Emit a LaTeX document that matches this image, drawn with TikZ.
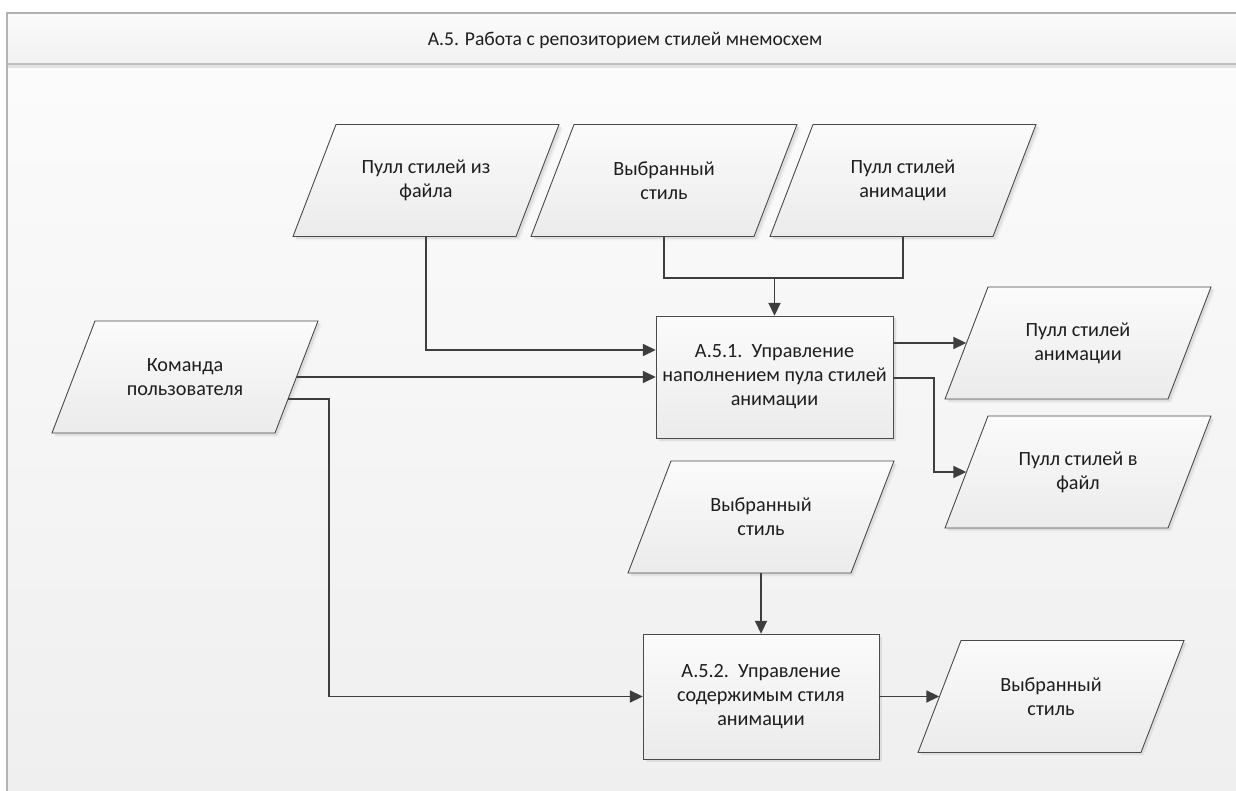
\documentclass[tikz,border=0pt]{standalone}
\usepackage{fontspec}
\setmainfont{Carlito}
\usetikzlibrary{arrows.meta}

\definecolor{frameline}{HTML}{B2B2B2}
\definecolor{headtop}{HTML}{FBFBFB}
\definecolor{headbot}{HTML}{F1F1F1}
\definecolor{bodytop}{HTML}{FCFCFC}
\definecolor{bodybot}{HTML}{EFEFEF}
\definecolor{outline}{HTML}{4A4A4A}
\definecolor{wire}{HTML}{3E3E3E}
\definecolor{filltop}{HTML}{FBFBFB}
\definecolor{fillbot}{HTML}{EBEBEB}
\definecolor{ink}{HTML}{1E1E1E}

\tikzset{
  label text/.style={font=\fontsize{20.2pt}{24pt}\selectfont, text=ink, align=center, inner sep=0pt},
  iotext/.style={label text, minimum width=223pt, minimum height=112pt},
  proctext/.style={label text},
  softshade/.style={fill=black!6},
  hardshade/.style={fill=black!13},
  facefill/.style={top color=filltop, bottom color=fillbot, draw=outline, line width=0.9pt},
  conn/.style={draw=wire, line width=1.8pt, -{Triangle[length=13pt,width=12pt]}},
  wireline/.style={draw=wire, line width=1.8pt},
}

% data parallelogram: name, centre x, centre y, text
\newcommand\ioat[4]{%
  \path[softshade] (#2,#3) ++(-133+4,-56-4) -- ++(223,0) -- ++(43,112) -- ++(-223,0) -- cycle;
  \path[hardshade] (#2,#3) ++(-133+2.5,-56-2.5) -- ++(223,0) -- ++(43,112) -- ++(-223,0) -- cycle;
  \shade[facefill] (#2,#3) ++(-133,-56) -- ++(223,0) -- ++(43,112) -- ++(-223,0) -- cycle;
  \node[iotext] (#1) at (#2,#3) {#4};
}

% process box: name, centre x, centre y, width, height, text
\newcommand\procat[6]{%
  \path[softshade] (#2,#3) ++(-#4/2+4,-#5/2-4) rectangle ++(#4,#5);
  \path[hardshade] (#2,#3) ++(-#4/2+2.5,-#5/2-2.5) rectangle ++(#4,#5);
  \shade[facefill] (#2,#3) ++(-#4/2,-#5/2) rectangle ++(#4,#5);
  \node[proctext, minimum width=#4pt, minimum height=#5pt] (#1) at (#2,#3) {#6};
}

\begin{document}
\begin{tikzpicture}[x=1pt,y=1pt]
\useasboundingbox (0,0) rectangle (1236,-791);
\clip (0,0) rectangle (1236,-791);
\fill[white] (0,0) rectangle (1236,-791);

% frame body and header band
\shade[top color=bodytop, bottom color=bodybot] (7,-13) rectangle (1245,-800);
\shade[top color=headtop, bottom color=headbot] (7,-13) rectangle (1245,-63);
\fill[black!11] (8,-64.5) rectangle (1245,-68);
\draw[black!25, line width=2pt] (8,-64) -- (1245,-64);
\draw[frameline, line width=1.6pt] (1245,-13) -- (7,-13) -- (7,-800);

\node[font=\fontsize{19.6pt}{23pt}\selectfont, text=ink, inner sep=0pt] (title) at (625,-40) {А.5. Работа с репозиторием стилей мнемосхем};

% inputs along the top
\ioat{p1}{426}{-180.5}{Пулл стилей из\\файла}
\ioat{p2}{664}{-180.5}{Выбранный\\стиль}
\ioat{p3}{903}{-180.5}{Пулл стилей\\анимации}

% user command
\ioat{p4}{185}{-377}{Команда\\пользователя}

% outputs of A.5.1
\ioat{p5}{1078}{-343}{Пулл стилей\\анимации}
\ioat{p6}{1078}{-472}{Пулл стилей в\\файл}

% input and output of A.5.2
\ioat{p7}{761}{-517}{Выбранный\\стиль}
\ioat{p8}{1051}{-696.5}{Выбранный\\стиль}

% processes
\procat{b1}{774.5}{-377}{237}{122}{А.5.1.~~Управление\\наполнением пула стилей\\анимации}
\procat{b2}{761}{-696.5}{236}{125}{А.5.2.~~Управление\\содержимым стиля\\анимации}

% connectors
\coordinate (join) at ([yshift=38pt]b1.north);
\draw[conn] (p1.south) |- ([yshift=27pt]b1.west);
\draw[wireline] (p2.south) |- (join) -| (p3.south);
\draw[conn] (join) -- (b1.north);
\draw[conn] (p4.east) -- (b1.west);
\draw[conn] ([shift={(-8.4pt,-22pt)}]p4.east) -- ++(41,0) |- (b2.west);
\draw[conn] (b1.east |- p5.west) -- (p5.west);
\draw[conn] ([yshift=-1pt]b1.east) -- ++(41,0) |- (p6.west);
\draw[conn] (p7.south) -- (b2.north);
\draw[conn] (b2.east) -- (p8.west);
\end{tikzpicture}
\end{document}
